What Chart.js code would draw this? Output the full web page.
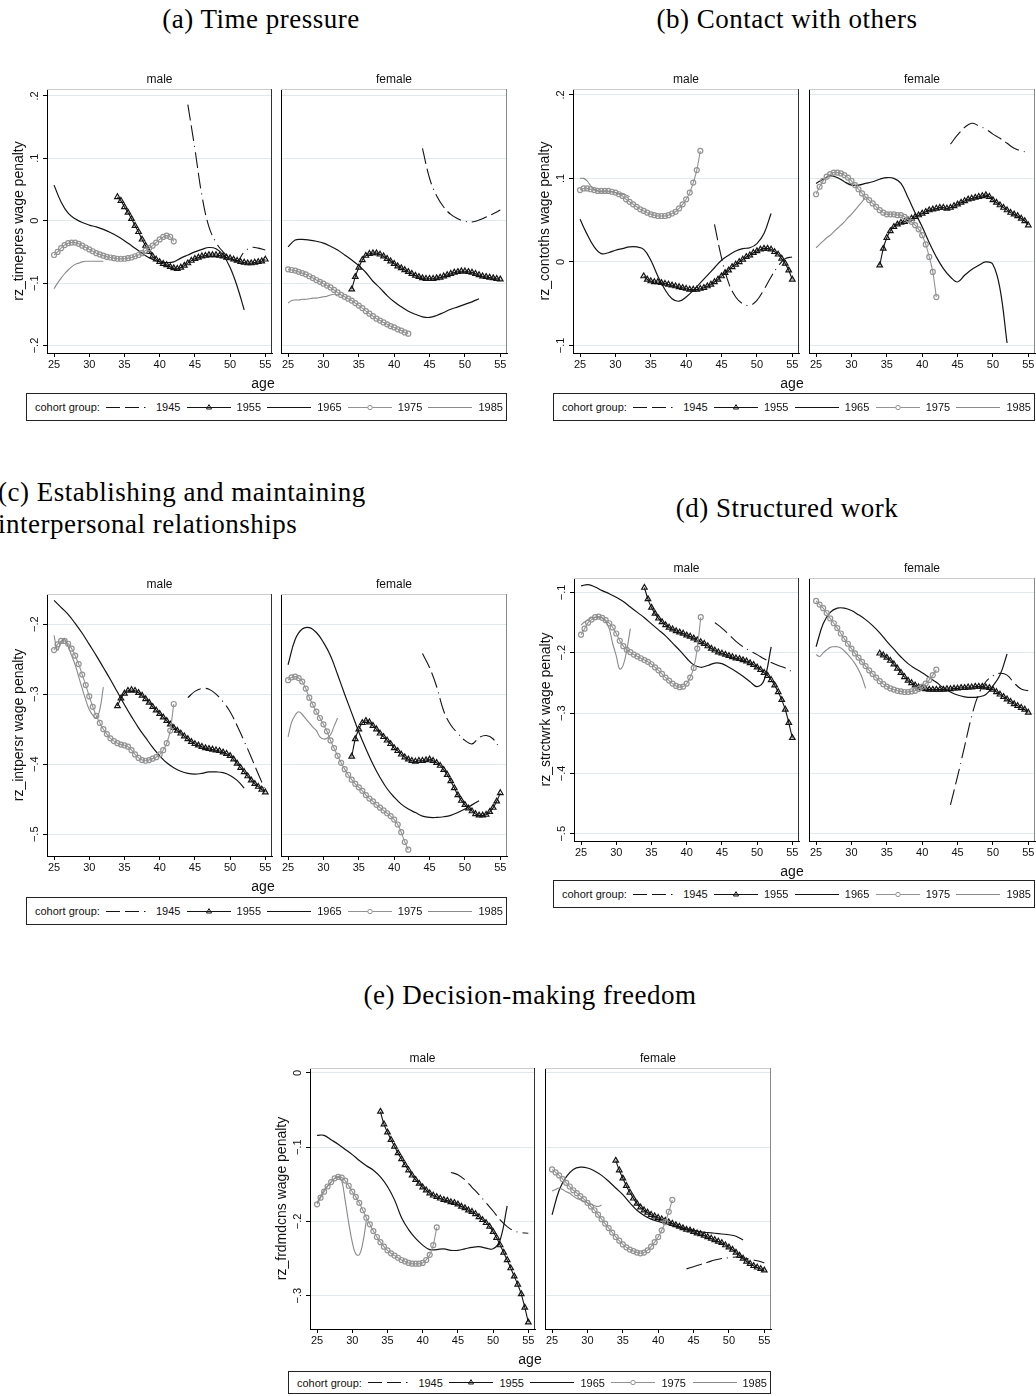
<!DOCTYPE html>
<html>
<head>
<meta charset="utf-8">
<script src="https://cdn.jsdelivr.net/npm/chart.js@4.4.1/dist/chart.umd.min.js"></script>
<style>
  body { margin: 0; background: #fff; }
  #page { position: relative; width: 1036px; height: 1396px; overflow: hidden; background: #fff;
          font-family: "Liberation Sans", Arial, sans-serif; color: #111; }
  #page canvas { position: absolute; }
  .cap { position: absolute; font-family: "Liberation Serif", serif; font-size: 27px; line-height: 27px;
         letter-spacing: 0.5px; white-space: nowrap; color: #000; }
  .lbl { position: absolute; transform: translate(-50%, -50%); line-height: 1; white-space: nowrap; }
  .legend { position: absolute; box-sizing: border-box; border: 1px solid #222; display: flex; align-items: center;
            justify-content: space-between; padding: 0 3px 0 8px; font-size: 11px; background: #fff; }
  .lg-item { display: flex; align-items: center; gap: 6px; }
  .lg-item svg { display: block; }
</style>
</head>
<body>
<div id="page">
  <div class="cap" style="left:261px;top:6px;transform:translateX(-50%)">(a) Time pressure</div>
  <div class="cap" style="left:787px;top:6px;transform:translateX(-50%)">(b) Contact with others</div>
  <div class="cap" style="left:-2px;top:476px;line-height:32px">(c) Establishing and maintaining<br>interpersonal relationships</div>
  <div class="cap" style="left:787px;top:495px;transform:translateX(-50%)">(d) Structured work</div>
  <div class="cap" style="left:530px;top:982px;transform:translateX(-50%)">(e) Decision-making freedom</div>
</div>
<script>
// cohorts and ages
const cohorts = ['1945', '1955', '1965', '1975', '1985'];
const age1945 = [44, 45, 46, 47, 48, 49, 50, 51, 52, 53, 54, 55];
const age1955 = [34, 34.5, 35, 35.5, 36, 36.5, 37, 37.5, 38, 38.5, 39, 39.5, 40, 40.5, 41, 41.5, 42, 42.5, 43, 43.5,
                 44, 44.5, 45, 45.5, 46, 46.5, 47, 47.5, 48, 48.5, 49, 49.5, 50, 50.5, 51, 51.5, 52, 52.5, 53, 53.5, 54, 54.5, 55];
const age1965 = [25, 26, 27, 28, 29, 30, 31, 32, 33, 34, 35, 36, 37, 38, 39, 40, 41, 42, 43, 44, 45, 46, 47, 48, 49, 50, 51, 52];
const age1975 = [25, 25.5, 26, 26.5, 27, 27.5, 28, 28.5, 29, 29.5, 30, 30.5, 31, 31.5, 32, 32.5, 33, 33.5, 34, 34.5,
                 35, 35.5, 36, 36.5, 37, 37.5, 38, 38.5, 39, 39.5, 40, 40.5, 41, 41.5, 42];
const age1985 = [25, 25.5, 26, 26.5, 27, 27.5, 28, 28.5, 29, 29.5, 30, 30.5, 31, 31.5, 32];

//--------------------------------------------- (a) time pressure
const timeMale45 = [0.186, 0.115, 0.04, -0.01, -0.035, -0.05, -0.06, -0.065, -0.05, -0.043, -0.044, -0.047];
const timeMale55 = [0.038, 0.032, 0.022, 0.013, 0.003, -0.008, -0.018, -0.030, -0.040, -0.050, -0.057, -0.062, -0.066, -0.069,
  -0.071, -0.074, -0.076, -0.077, -0.075, -0.072, -0.068, -0.064, -0.061, -0.059, -0.057, -0.056, -0.055, -0.055, -0.055,
  -0.056, -0.057, -0.059, -0.060, -0.062, -0.064, -0.066, -0.067, -0.068, -0.068, -0.067, -0.066, -0.065, -0.062];
const timeMale65 = [0.057, 0.030, 0.012, 0.003, -0.003, -0.007, -0.010, -0.014, -0.019, -0.025, -0.032, -0.040, -0.048, -0.056,
  -0.062, -0.066, -0.067, -0.066, -0.060, -0.055, -0.050, -0.046, -0.043, -0.045, -0.055, -0.075, -0.105, -0.143];
const timeMale75 = [-0.055, -0.050, -0.044, -0.039, -0.036, -0.035, -0.035, -0.037, -0.040, -0.043, -0.046, -0.049, -0.052,
  -0.054, -0.056, -0.058, -0.059, -0.060, -0.061, -0.061, -0.061, -0.060, -0.059, -0.057, -0.055, -0.052, -0.048, -0.044,
  -0.040, -0.035, -0.030, -0.026, -0.024, -0.026, -0.033];
const timeMale85 = [-0.109, -0.100, -0.092, -0.085, -0.079, -0.074, -0.070, -0.068, -0.066, -0.065, -0.065, -0.065, -0.065, -0.065, -0.065];
const timeFemale45 = [0.116, 0.068, 0.040, 0.022, 0.010, 0.003, -0.001, -0.002, 0.001, 0.006, 0.011, 0.017];
const timeFemale55 = [-0.110, -0.090, -0.075, -0.063, -0.056, -0.053, -0.052, -0.052, -0.054, -0.057, -0.061, -0.065, -0.069,
  -0.073, -0.076, -0.079, -0.082, -0.085, -0.088, -0.090, -0.092, -0.093, -0.093, -0.093, -0.092, -0.091, -0.089, -0.087,
  -0.085, -0.083, -0.082, -0.081, -0.081, -0.082, -0.083, -0.085, -0.087, -0.089, -0.090, -0.091, -0.092, -0.093, -0.094];
const timeFemale65 = [-0.042, -0.031, -0.030, -0.031, -0.033, -0.036, -0.041, -0.047, -0.055, -0.063, -0.072, -0.083, -0.097,
  -0.108, -0.120, -0.130, -0.138, -0.145, -0.150, -0.154, -0.155, -0.152, -0.147, -0.142, -0.138, -0.134, -0.130, -0.125];
const timeFemale75 = [-0.078, -0.079, -0.080, -0.082, -0.084, -0.086, -0.089, -0.092, -0.095, -0.098, -0.101, -0.104, -0.107,
  -0.111, -0.115, -0.119, -0.122, -0.125, -0.128, -0.132, -0.136, -0.140, -0.145, -0.149, -0.153, -0.157, -0.160, -0.163,
  -0.166, -0.169, -0.171, -0.174, -0.176, -0.179, -0.181];
const timeFemale85 = [-0.132, -0.128, -0.127, -0.127, -0.126, -0.126, -0.125, -0.124, -0.124, -0.123, -0.122, -0.121, -0.119, -0.118, -0.121];

//--------------------------------------------- (b) contact with others
const contactMale45 = [0.045, 0.005, -0.025, -0.042, -0.050, -0.052, -0.046, -0.033, -0.018, -0.005, 0.004, 0.006];
const contactMale55 = [-0.017, -0.021, -0.023, -0.024, -0.024, -0.025, -0.026, -0.027, -0.028, -0.029, -0.030, -0.031, -0.032,
  -0.033, -0.033, -0.033, -0.032, -0.031, -0.029, -0.027, -0.024, -0.021, -0.017, -0.013, -0.010, -0.006, -0.003, 0.000,
  0.003, 0.006, 0.008, 0.011, 0.013, 0.015, 0.016, 0.016, 0.015, 0.012, 0.009, 0.004, -0.002, -0.010, -0.021];
const contactMale65 = [0.051, 0.033, 0.018, 0.010, 0.011, 0.014, 0.016, 0.018, 0.018, 0.015, 0.002, -0.017, -0.033, -0.044,
  -0.047, -0.042, -0.034, -0.025, -0.016, -0.007, 0.002, 0.008, 0.013, 0.016, 0.017, 0.022, 0.034, 0.058];
const contactMale75 = [0.086, 0.088, 0.088, 0.087, 0.086, 0.085, 0.085, 0.085, 0.085, 0.084, 0.083, 0.081, 0.079, 0.075, 0.072,
  0.069, 0.066, 0.063, 0.061, 0.059, 0.057, 0.056, 0.055, 0.055, 0.055, 0.056, 0.058, 0.060, 0.064, 0.069, 0.075, 0.083,
  0.095, 0.110, 0.133];
const contactMale85 = [0.100, 0.100, 0.097, 0.091, 0.087, 0.085, 0.084, 0.084, 0.084, 0.084, 0.083, 0.082, 0.081, 0.080, 0.078];
const contactFemale45 = [0.141, 0.152, 0.161, 0.166, 0.163, 0.159, 0.153, 0.148, 0.142, 0.136, 0.133, 0.131];
const contactFemale55 = [-0.004, 0.016, 0.029, 0.037, 0.042, 0.045, 0.047, 0.048, 0.050, 0.052, 0.054, 0.056, 0.058, 0.060,
  0.062, 0.063, 0.064, 0.065, 0.065, 0.064, 0.065, 0.067, 0.069, 0.071, 0.073, 0.075, 0.076, 0.077, 0.078, 0.079, 0.080,
  0.078, 0.074, 0.071, 0.068, 0.065, 0.062, 0.059, 0.057, 0.055, 0.052, 0.049, 0.044];
const contactFemale65 = [0.094, 0.099, 0.103, 0.101, 0.096, 0.092, 0.092, 0.094, 0.096, 0.099, 0.101, 0.100, 0.094, 0.077,
  0.059, 0.042, 0.023, 0.006, -0.008, -0.018, -0.024, -0.016, -0.009, -0.004, 0.000, -0.003, -0.032, -0.097];
const contactFemale75 = [0.081, 0.090, 0.097, 0.102, 0.105, 0.107, 0.107, 0.106, 0.104, 0.101, 0.097, 0.092, 0.087, 0.082,
  0.078, 0.074, 0.070, 0.066, 0.062, 0.059, 0.057, 0.057, 0.057, 0.056, 0.056, 0.054, 0.051, 0.048, 0.044, 0.039, 0.032,
  0.021, 0.006, -0.012, -0.042];
const contactFemale85 = [0.017, 0.021, 0.025, 0.029, 0.032, 0.036, 0.040, 0.044, 0.048, 0.053, 0.057, 0.062, 0.067, 0.072, 0.078];

//--------------------------------------------- (c) interpersonal relationships
const relMale45 = [-0.305, -0.296, -0.292, -0.293, -0.300, -0.311, -0.325, -0.345, -0.367, -0.390, -0.414, -0.437];
const relMale55 = [-0.317, -0.306, -0.299, -0.295, -0.294, -0.295, -0.298, -0.302, -0.307, -0.312, -0.318, -0.323, -0.328,
  -0.333, -0.338, -0.343, -0.348, -0.352, -0.356, -0.360, -0.364, -0.368, -0.371, -0.373, -0.375, -0.377, -0.378, -0.379,
  -0.380, -0.381, -0.383, -0.385, -0.388, -0.393, -0.399, -0.405, -0.411, -0.417, -0.423, -0.428, -0.432, -0.436, -0.440];
const relMale65 = [-0.166, -0.176, -0.186, -0.199, -0.213, -0.229, -0.245, -0.262, -0.279, -0.297, -0.315, -0.332, -0.348,
  -0.362, -0.376, -0.388, -0.398, -0.405, -0.410, -0.413, -0.414, -0.413, -0.411, -0.411, -0.412, -0.416, -0.423, -0.434];
const relMale75 = [-0.237, -0.229, -0.224, -0.224, -0.228, -0.235, -0.245, -0.257, -0.272, -0.287, -0.303, -0.318, -0.331,
  -0.341, -0.350, -0.357, -0.363, -0.367, -0.370, -0.372, -0.373, -0.375, -0.380, -0.386, -0.391, -0.394, -0.395, -0.394,
  -0.392, -0.390, -0.386, -0.380, -0.370, -0.352, -0.314];
const relMale85 = [-0.216, -0.237, -0.226, -0.222, -0.232, -0.245, -0.258, -0.275, -0.292, -0.308, -0.322, -0.330, -0.334, -0.322, -0.290];
const relFemale45 = [-0.242, -0.262, -0.289, -0.324, -0.344, -0.356, -0.366, -0.371, -0.362, -0.359, -0.364, -0.379];
const relFemale55 = [-0.389, -0.364, -0.350, -0.341, -0.338, -0.340, -0.345, -0.350, -0.356, -0.361, -0.366, -0.371, -0.377,
  -0.381, -0.386, -0.390, -0.393, -0.395, -0.396, -0.395, -0.395, -0.394, -0.393, -0.395, -0.398, -0.402, -0.408, -0.415,
  -0.424, -0.434, -0.444, -0.452, -0.458, -0.463, -0.467, -0.471, -0.473, -0.473, -0.472, -0.468, -0.462, -0.453, -0.441];
const relFemale65 = [-0.258, -0.222, -0.207, -0.205, -0.212, -0.226, -0.245, -0.272, -0.300, -0.327, -0.354, -0.378, -0.400,
  -0.419, -0.435, -0.447, -0.457, -0.464, -0.469, -0.474, -0.476, -0.476, -0.475, -0.473, -0.469, -0.464, -0.458, -0.452];
const relFemale75 = [-0.280, -0.276, -0.275, -0.277, -0.282, -0.292, -0.305, -0.315, -0.325, -0.334, -0.343, -0.353, -0.366,
  -0.377, -0.388, -0.398, -0.407, -0.415, -0.422, -0.428, -0.433, -0.438, -0.444, -0.449, -0.453, -0.458, -0.462, -0.466,
  -0.470, -0.474, -0.479, -0.486, -0.497, -0.511, -0.522];
const relFemale85 = [-0.361, -0.340, -0.330, -0.325, -0.329, -0.335, -0.341, -0.347, -0.352, -0.361, -0.364, -0.363, -0.358, -0.346, -0.334];

//--------------------------------------------- (d) structured work
const structMale45 = [-0.150, -0.159, -0.170, -0.181, -0.190, -0.197, -0.203, -0.210, -0.216, -0.221, -0.225, -0.232];
const structMale55 = [-0.092, -0.111, -0.125, -0.135, -0.143, -0.149, -0.154, -0.158, -0.161, -0.164, -0.166, -0.168, -0.171,
  -0.173, -0.176, -0.179, -0.182, -0.185, -0.189, -0.193, -0.196, -0.199, -0.201, -0.203, -0.205, -0.207, -0.209, -0.210,
  -0.212, -0.214, -0.217, -0.220, -0.224, -0.228, -0.233, -0.238, -0.245, -0.254, -0.265, -0.278, -0.294, -0.316, -0.341];
const structMale65 = [-0.089, -0.087, -0.091, -0.097, -0.102, -0.108, -0.115, -0.124, -0.133, -0.142, -0.152, -0.162, -0.172,
  -0.184, -0.196, -0.209, -0.220, -0.224, -0.221, -0.217, -0.218, -0.224, -0.231, -0.239, -0.248, -0.256, -0.245, -0.190];
const structMale75 = [-0.170, -0.160, -0.150, -0.145, -0.141, -0.140, -0.142, -0.146, -0.151, -0.158, -0.168, -0.180, -0.189,
  -0.195, -0.199, -0.203, -0.206, -0.209, -0.212, -0.215, -0.219, -0.224, -0.229, -0.235, -0.241, -0.246, -0.251, -0.255,
  -0.257, -0.256, -0.251, -0.241, -0.225, -0.193, -0.141];
const structMale85 = [-0.154, -0.149, -0.145, -0.142, -0.141, -0.141, -0.142, -0.148, -0.160, -0.185, -0.205, -0.227, -0.220, -0.195, -0.160];
const structFemale45 = [-0.452, -0.405, -0.355, -0.305, -0.268, -0.248, -0.238, -0.234, -0.237, -0.250, -0.260, -0.263];
const structFemale55 = [-0.201, -0.204, -0.208, -0.213, -0.219, -0.226, -0.233, -0.240, -0.246, -0.250, -0.254, -0.257, -0.259,
  -0.260, -0.261, -0.261, -0.261, -0.261, -0.261, -0.260, -0.260, -0.259, -0.259, -0.258, -0.258, -0.257, -0.257, -0.256,
  -0.256, -0.256, -0.257, -0.258, -0.261, -0.265, -0.269, -0.273, -0.277, -0.281, -0.285, -0.288, -0.291, -0.294, -0.299];
const structFemale65 = [-0.190, -0.152, -0.133, -0.126, -0.126, -0.130, -0.137, -0.145, -0.155, -0.167, -0.181, -0.194, -0.207,
  -0.218, -0.226, -0.233, -0.241, -0.249, -0.258, -0.265, -0.270, -0.273, -0.274, -0.273, -0.269, -0.255, -0.237, -0.202];
const structFemale75 = [-0.114, -0.120, -0.126, -0.134, -0.143, -0.151, -0.159, -0.168, -0.177, -0.185, -0.193, -0.201, -0.208,
  -0.215, -0.222, -0.229, -0.235, -0.241, -0.247, -0.252, -0.256, -0.259, -0.261, -0.263, -0.264, -0.265, -0.265, -0.264,
  -0.263, -0.260, -0.256, -0.251, -0.245, -0.237, -0.228];
const structFemale85 = [-0.203, -0.206, -0.200, -0.195, -0.191, -0.190, -0.190, -0.192, -0.197, -0.203, -0.210, -0.218, -0.228, -0.241, -0.259];

//--------------------------------------------- (e) decision-making freedom
const decisMale45 = [-0.134, -0.137, -0.144, -0.154, -0.164, -0.175, -0.186, -0.198, -0.207, -0.213, -0.215, -0.216];
const decisMale55 = [-0.052, -0.069, -0.080, -0.090, -0.099, -0.108, -0.116, -0.124, -0.131, -0.138, -0.144, -0.149, -0.154,
  -0.158, -0.162, -0.165, -0.167, -0.169, -0.171, -0.172, -0.174, -0.175, -0.177, -0.180, -0.182, -0.185, -0.187, -0.190,
  -0.194, -0.198, -0.202, -0.207, -0.214, -0.222, -0.232, -0.242, -0.252, -0.263, -0.274, -0.285, -0.298, -0.316, -0.336];
const decisMale65 = [-0.084, -0.084, -0.090, -0.096, -0.103, -0.110, -0.118, -0.125, -0.131, -0.140, -0.153, -0.171, -0.195,
  -0.211, -0.223, -0.232, -0.238, -0.238, -0.237, -0.239, -0.239, -0.237, -0.235, -0.234, -0.236, -0.237, -0.225, -0.179];
const decisMale75 = [-0.177, -0.168, -0.160, -0.153, -0.147, -0.142, -0.140, -0.141, -0.145, -0.152, -0.160, -0.167, -0.175,
  -0.185, -0.195, -0.204, -0.213, -0.221, -0.228, -0.234, -0.239, -0.243, -0.246, -0.249, -0.252, -0.254, -0.256, -0.257,
  -0.257, -0.257, -0.256, -0.252, -0.245, -0.232, -0.208];
const decisMale85 = [-0.175, -0.166, -0.158, -0.152, -0.147, -0.142, -0.140, -0.145, -0.172, -0.202, -0.228, -0.244, -0.245, -0.229, -0.199];
const decisFemale45 = [-0.264, -0.261, -0.258, -0.255, -0.252, -0.250, -0.249, -0.248, -0.249, -0.251, -0.253, -0.256];
const decisFemale55 = [-0.118, -0.131, -0.142, -0.152, -0.161, -0.169, -0.176, -0.181, -0.185, -0.188, -0.191, -0.193, -0.195,
  -0.197, -0.199, -0.201, -0.203, -0.205, -0.207, -0.209, -0.211, -0.212, -0.214, -0.216, -0.217, -0.219, -0.221, -0.223,
  -0.225, -0.227, -0.229, -0.232, -0.235, -0.238, -0.242, -0.246, -0.250, -0.254, -0.257, -0.260, -0.262, -0.264, -0.266];
const decisFemale65 = [-0.191, -0.158, -0.140, -0.130, -0.127, -0.128, -0.132, -0.138, -0.146, -0.155, -0.164, -0.175, -0.185,
  -0.192, -0.197, -0.200, -0.203, -0.206, -0.208, -0.210, -0.212, -0.214, -0.215, -0.216, -0.217, -0.218, -0.220, -0.225];
const decisFemale75 = [-0.130, -0.134, -0.138, -0.143, -0.148, -0.153, -0.158, -0.162, -0.166, -0.170, -0.175, -0.180, -0.185,
  -0.191, -0.197, -0.203, -0.209, -0.215, -0.221, -0.226, -0.231, -0.235, -0.238, -0.240, -0.242, -0.243, -0.242, -0.239,
  -0.234, -0.228, -0.221, -0.212, -0.201, -0.187, -0.171];
const decisFemale85 = [-0.159, -0.157, -0.155, -0.157, -0.160, -0.162, -0.166, -0.169, -0.171, -0.173, -0.175, -0.177, -0.179, -0.180, -0.178];

//--------------------------------------------- layout of the five panels
const panels = [
  { male: {l: 47, t: 89, r: 272, b: 353}, female: {l: 281, t: 89, r: 507, b: 353}, y: [-0.212, 0.211],
    title: 'rz_timepres wage penalty', age: [263, 383], legend: [26, 393, 481, 28],
    m: [timeMale45, timeMale55, timeMale65, timeMale75, timeMale85],
    f: [timeFemale45, timeFemale55, timeFemale65, timeFemale75, timeFemale85] },
  { male: {l: 573, t: 89, r: 799, b: 353}, female: {l: 809, t: 89, r: 1035, b: 353}, y: [-0.109, 0.207],
    title: 'rz_contoths wage penalty', age: [792, 383], legend: [553, 393, 482, 28],
    m: [contactMale45, contactMale55, contactMale65, contactMale75, contactMale85],
    f: [contactFemale45, contactFemale55, contactFemale65, contactFemale75, contactFemale85] },
  { male: {l: 47, t: 594, r: 272, b: 856}, female: {l: 281, t: 594, r: 507, b: 856}, y: [-0.531, -0.157],
    title: 'rz_intpersr wage penalty', age: [263, 886], legend: [26, 897, 481, 28],
    m: [relMale45, relMale55, relMale65, relMale75, relMale85],
    f: [relFemale45, relFemale55, relFemale65, relFemale75, relFemale85] },
  { male: {l: 574, t: 578, r: 799, b: 841}, female: {l: 809, t: 578, r: 1035, b: 841}, y: [-0.512, -0.076],
    title: 'rz_strctwrk wage penalty', age: [792, 871], legend: [553, 880, 482, 28],
    m: [structMale45, structMale55, structMale65, structMale75, structMale85],
    f: [structFemale45, structFemale55, structFemale65, structFemale75, structFemale85] },
  { male: {l: 310, t: 1068, r: 535, b: 1329}, female: {l: 545, t: 1068, r: 771, b: 1329}, y: [-0.345, 0.0067],
    title: 'rz_frdmdcns wage penalty', age: [530, 1359], legend: [288, 1371, 483, 23],
    m: [decisMale45, decisMale55, decisMale65, decisMale75, decisMale85],
    f: [decisFemale45, decisFemale55, decisFemale65, decisFemale75, decisFemale85] }
];

Chart.defaults.font.family = '"Liberation Sans", Arial, sans-serif';
Chart.defaults.color = '#111';

const page = document.getElementById('page');
const AXW = 46, AXWF = 12, PT = 10, PR = 12, AXH = 20;
const BLACK = '#141414', GREY75 = '#939393', GREY85 = '#8a8a8a';
const DASH45 = [16, 5, 16, 5, 1, 5];

function fmtTick(v) {
  const r = Math.round(v * 10) / 10;
  if (r === 0) return '0';
  return (r < 0 ? '\u2212' : '') + Math.abs(r).toFixed(1).replace(/^0/, '');
}

function pts(xs, ys) {
  return xs.map((x, i) => ({x: x, y: ys[i]}));
}

function cohortSets(vals) {
  return [
    {label: cohorts[0], data: pts(age1945, vals[0]), borderColor: BLACK, borderWidth: 1.1,
     borderDash: DASH45, pointRadius: 0, tension: 0.4, order: 5},
    {label: cohorts[1], data: pts(age1955, vals[1]), borderColor: BLACK, borderWidth: 1.1,
     pointStyle: 'triangle', pointRadius: 3.2, pointBorderWidth: 1.2, pointBorderColor: BLACK,
     pointBackgroundColor: 'rgba(255,255,255,0)', tension: 0.3, order: 4},
    {label: cohorts[2], data: pts(age1965, vals[2]), borderColor: BLACK, borderWidth: 1.2,
     pointRadius: 0, tension: 0.4, order: 3},
    {label: cohorts[3], data: pts(age1975, vals[3]), borderColor: GREY75, borderWidth: 1.1,
     pointStyle: 'circle', pointRadius: 2.5, pointBorderWidth: 1.2, pointBorderColor: GREY75,
     pointBackgroundColor: 'rgba(255,255,255,0)', tension: 0.3, order: 2},
    {label: cohorts[4], data: pts(age1985, vals[4]), borderColor: GREY85, borderWidth: 1.1,
     pointRadius: 0, tension: 0.4, order: 1}
  ];
}

function addLabel(text, cx, cy, size) {
  const d = document.createElement('div');
  d.className = 'lbl';
  d.style.left = cx + 'px';
  d.style.top = cy + 'px';
  d.style.fontSize = size + 'px';
  d.textContent = text;
  page.appendChild(d);
}

function sampleSvg(i) {
  const col = i < 3 ? BLACK : (i === 3 ? GREY75 : GREY85);
  const dash = i === 0 ? ' stroke-dasharray="14 5 14 5 1.5 5"' : '';
  let mark = '';
  if (i === 1) mark = '<polygon points="22,2.6 19.5,7 24.5,7" fill="none" stroke="' + BLACK + '" stroke-width="1"/>';
  if (i === 3) mark = '<circle cx="22" cy="5.5" r="2.2" fill="#fff" stroke="' + GREY75 + '" stroke-width="1"/>';
  return '<svg width="44" height="11"><line x1="0" y1="5.5" x2="44" y2="5.5" stroke="' + col +
         '" stroke-width="1"' + dash + '/>' + mark + '</svg>';
}

function addLegend(l, t, w, h) {
  const d = document.createElement('div');
  d.className = 'legend';
  d.style.cssText = 'left:' + l + 'px;top:' + t + 'px;width:' + w + 'px;height:' + h + 'px';
  d.innerHTML = '<span>cohort group:</span>' + cohorts.map((c, i) =>
    '<span class="lg-item">' + sampleSvg(i) + '<span>' + c + '</span></span>').join('');
  page.appendChild(d);
}

function subplot(box, yr, yTitle, vals, isMale) {
  const aw = isMale ? AXW : AXWF;
  const w = aw + (box.r - box.l) + PR;
  const h = PT + (box.b - box.t) + AXH;
  const cv = document.createElement('canvas');
  cv.width = w;
  cv.height = h;
  cv.style.left = (box.l - aw) + 'px';
  cv.style.top = (box.t - PT) + 'px';
  cv.style.width = w + 'px';
  cv.style.height = h + 'px';
  page.appendChild(cv);

  const frame = {
    id: 'frame',
    afterDatasetsDraw(chart) {
      const a = chart.chartArea, ctx = chart.ctx;
      ctx.save();
      ctx.lineWidth = 1;
      ctx.strokeStyle = '#cccccc';
      ctx.beginPath(); ctx.moveTo(a.left, a.top + 0.5); ctx.lineTo(a.right, a.top + 0.5); ctx.stroke();
      ctx.strokeStyle = isMale ? '#333333' : '#8a8a8a';
      ctx.beginPath(); ctx.moveTo(a.right - 0.5, a.top); ctx.lineTo(a.right - 0.5, a.bottom); ctx.stroke();
      ctx.restore();
    }
  };

  new Chart(cv, {
    type: 'line',
    data: {datasets: cohortSets(vals)},
    options: {
      responsive: false,
      animation: false,
      devicePixelRatio: 1,
      layout: {padding: {top: PT, right: PR, left: 0, bottom: 0}},
      plugins: {legend: {display: false}, tooltip: {enabled: false}},
      scales: {
        x: {
          type: 'linear', min: 24, max: 55.95,
          afterFit: s => { s.height = AXH; },
          ticks: {stepSize: 5, includeBounds: false, autoSkip: false, maxRotation: 0, padding: 1,
                  font: {size: 11}, color: '#111'},
          grid: {drawOnChartArea: false, tickLength: 4, color: '#000', tickColor: '#000'},
          border: {color: '#000', width: 1}
        },
        y: {
          min: yr[0], max: yr[1],
          afterFit: s => { s.width = aw; },
          ticks: {display: isMale, stepSize: 0.1, includeBounds: false, minRotation: 90, maxRotation: 90,
                  crossAlign: 'center', padding: 0, font: {size: 11}, color: '#111', callback: fmtTick},
          grid: {color: '#e1e9ec', tickColor: '#000', tickLength: 4, drawTicks: isMale},
          border: {color: '#000', width: 1},
          title: {display: isMale, text: yTitle || '', font: {size: 14}, color: '#111',
                  padding: {top: aw - 36, bottom: 0}}
        }
      }
    },
    plugins: [frame]
  });
}

panels.forEach(p => {
  subplot(p.male, p.y, p.title, p.m, true);
  subplot(p.female, p.y, null, p.f, false);
  addLabel('male', (p.male.l + p.male.r) / 2, p.male.t - 10, 12);
  addLabel('female', (p.female.l + p.female.r) / 2, p.female.t - 10, 12);
  addLabel('age', p.age[0], p.age[1], 14);
  addLegend(p.legend[0], p.legend[1], p.legend[2], p.legend[3]);
});
</script>
</body>
</html>
